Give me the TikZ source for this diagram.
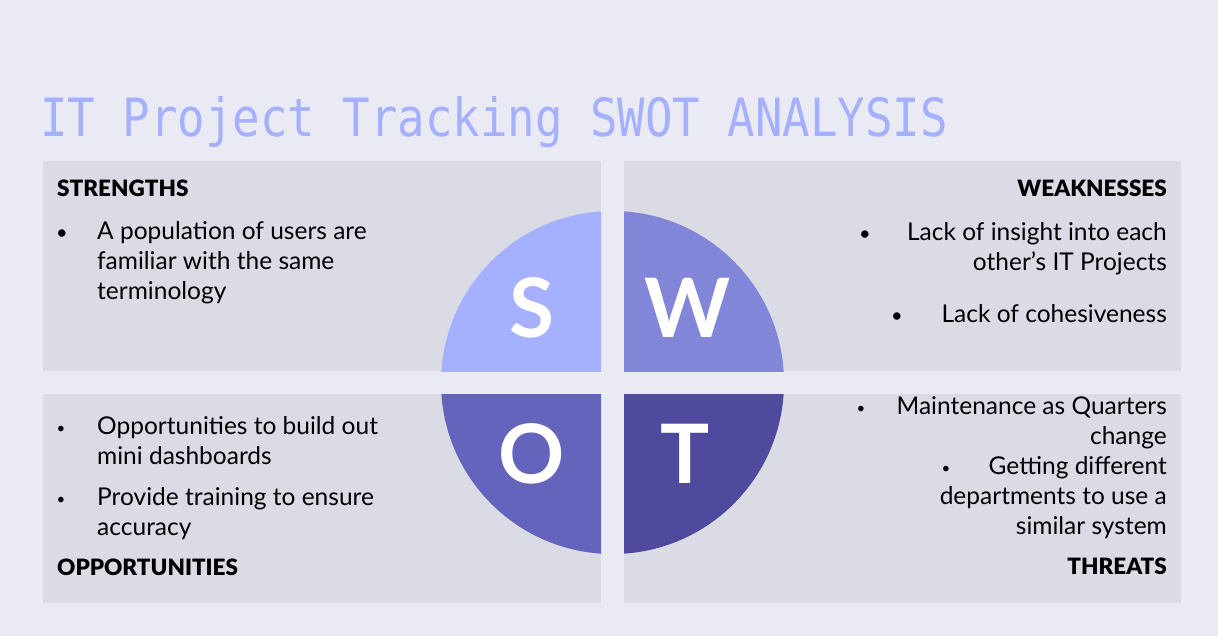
\documentclass[tikz,border=0pt]{standalone}
\usepackage{fontspec}
\setmainfont{Lato}
\newfontfamily\titlefont{DejaVu Sans Mono}
\newfontfamily\headfont{Lato Black}
\usepackage{graphicx}
\usepackage{xcolor}
\usepackage{tikz}
\usetikzlibrary{positioning}
\definecolor{bgcol}{HTML}{EAEAF4}
\definecolor{panelcol}{HTML}{DBDBE6}
\definecolor{scol}{HTML}{A5B0FF}
\definecolor{wcol}{HTML}{8286D8}
\definecolor{ocol}{HTML}{6564BD}
\definecolor{tcol}{HTML}{4F4A9E}

\begin{document}
\begin{tikzpicture}[x=1pt, y=-1pt, panel/.style={fill=panelcol}, letter/.style={inner sep=0, text=white, font=\fontsize{82}{82}\selectfont\bfseries}, head/.style={inner sep=0, font=\fontsize{22.5}{24}\headfont}, item/.style={inner sep=0, font=\fontsize{24.5}{30}\selectfont}, lefttext/.style={item, anchor=base west, align=left}, righttext/.style={item, anchor=base east, align=right}, dot/.style={inner sep=0, anchor=base, font=\fontsize{20}{24}\selectfont}, smalldot/.style={dot, font=\fontsize{15}{24}\selectfont}]
\fill[bgcol] (0,0) rectangle (1218,636);
\useasboundingbox (0,0) rectangle (1218,636);
% title
\node[inner sep=0, anchor=base west, text=scol, font=\fontsize{52.7}{60}\titlefont] (title) at (40,137) {\scalebox{0.867}[1]{IT Project Tracking SWOT ANALYSIS}};
% panels
\fill[panel] (43,161) rectangle (601,371);
\fill[panel] (624,161) rectangle (1181,371);
\fill[panel] (43,394) rectangle (601,603);
\fill[panel] (624,394) rectangle (1181,603);
% circle quarters
\coordinate (ctr) at (612.5,382.5);
\begin{scope}
\clip (0,0) rectangle (601,371);
\fill[scol] (ctr) circle[radius=171.5pt];
\end{scope}
\begin{scope}
\clip (624,0) rectangle (1218,371);
\fill[wcol] (ctr) circle[radius=171.5pt];
\end{scope}
\begin{scope}
\clip (0,394) rectangle (601,636);
\fill[ocol] (ctr) circle[radius=171.5pt];
\end{scope}
\begin{scope}
\clip (624,394) rectangle (1218,636);
\fill[tcol] (ctr) circle[radius=171.5pt];
\end{scope}
\node[letter] (lS) at (532,308) {S};
\node[letter] (lW) at (688,308) {W};
\node[letter] (lO) at (532,454) {O};
\node[letter] (lT) at (685,454) {T};
% headings
\node[head, anchor=base west] (strengths) at (57,197) {STRENGTHS};
\node[head, anchor=base east] (weaknesses) at (1167,197) {WEAKNESSES};
\node[head, anchor=base west] (opportunities) at (57,575) {OPPORTUNITIES};
\node[head, anchor=base east] (threats) at (1167,574) {THREATS};
% items (anchored on the last line)
\node[lefttext] (s1) at (97,300) {A population of users are\\familiar with the same\\terminology};
\node[dot] (s1dot) at (62,240) {•};
\node[righttext] (w1) at (1167,271) {Lack of insight into each\\other’s IT Projects};
\node[dot] (w1dot) at (865,241) {•};
\node[righttext] (w2) at (1167,323) {Lack of cohesiveness};
\node[dot] (w2dot) at (897,323) {•};
\node[lefttext] (o1) at (97,464) {Opportunities to build out\\mini dashboards};
\node[smalldot] (o1dot) at (61,433) {•};
\node[lefttext] (o2) at (97,535) {Provide training to ensure\\accuracy};
\node[smalldot] (o2dot) at (61,504) {•};
\node[righttext] (t1) at (1167,444) {Maintenance as Quarters\\change};
\node[smalldot] (t1dot) at (861,413) {•};
\node[righttext] (t2) at (1167,534) {Getting different\\departments to use a\\similar system};
\node[smalldot] (t2dot) at (946,473) {•};
\end{tikzpicture}
\end{document}
